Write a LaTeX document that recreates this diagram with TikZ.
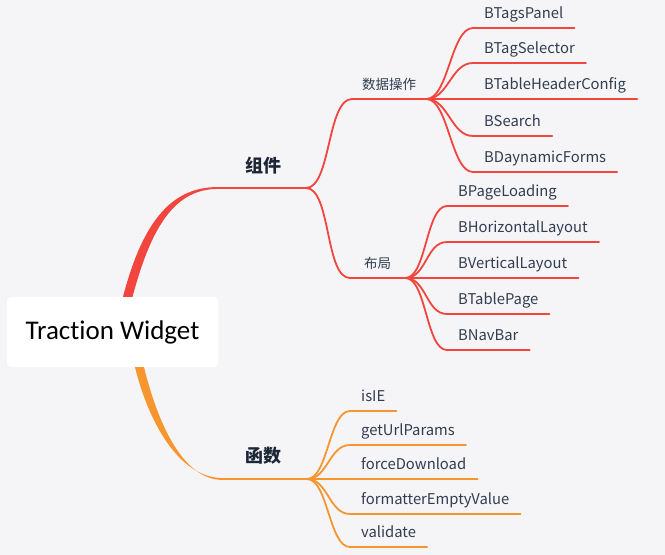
\documentclass[tikz,border=0pt]{standalone}
\usepackage{fontspec}
\setmainfont{Noto Sans CJK SC}
\newfontfamily\rootfont{Carlito}[Ligatures=NoCommon]
\usetikzlibrary{positioning}
\definecolor{mapBg}{HTML}{F5F5F8}
\definecolor{mapRed}{HTML}{F2453D}
\definecolor{mapOrange}{HTML}{F7962E}
\definecolor{mapInk}{HTML}{1C2636}
\definecolor{mapText}{HTML}{333D4F}

\begin{document}
\begin{tikzpicture}[x=1pt,y=-1pt,
    rootbox/.style={fill=white,rounded corners=4pt,minimum width=211pt,
                    minimum height=70pt,font=\rootfont\fontsize{27}{30}\selectfont},
    topic/.style={font=\bfseries\fontsize{18}{20}\selectfont,text=mapInk},
    sub/.style={anchor=south west,inner xsep=10pt,inner ysep=6pt,text height=10pt,
                text depth=3pt,font=\fontsize{13.5}{16}\selectfont,text=mapText},
    leaf/.style={anchor=south west,inner xsep=11pt,inner ysep=6pt,text height=10pt,
                 text depth=3pt,font=\fontsize{14.8}{17}\selectfont,text=mapText},
    link/.style={line width=1.8pt,line cap=round}]
  \fill[mapBg] (0,0) rectangle (665,555);
  \useasboundingbox (0,0) rectangle (665,555);

  \node[rootbox] (root) at (112.5,332) {Traction Widget};

  % main branches
  \coordinate (compL) at (217,188);
  \coordinate (compJ) at (306,188);
  \coordinate (funcL) at (223,479);
  \coordinate (funcJ) at (307,479);
  \fill[mapRed] ([xshift=10.5pt]root.north) .. controls (141,228) and (168,187) .. ([yshift=0.9pt]compL)
    -- ([yshift=-0.9pt]compL) .. controls (172,189.5) and (150,232) .. ([xshift=20pt]root.north) -- cycle;
  \fill[mapOrange] ([xshift=22.5pt]root.south) .. controls (148,420) and (178,478) .. ([yshift=0.9pt]funcL)
    -- ([yshift=-0.9pt]funcL) .. controls (182,480.5) and (157,420) .. ([xshift=31.5pt]root.south) -- cycle;
  \draw[link,mapRed] (compL) -- (compJ);
  \draw[link,mapOrange] (funcL) -- (funcJ);
  \node[topic] (comp) at (263,166) {组件};
  \node[topic] (func) at (263,456) {函数};

  \node[sub] (data) at (352,99) {数据操作};
  \node[sub,minimum width=55pt] (layout) at (350,278) {布局};
  \draw[link,mapRed] (compJ) .. controls +(25,0) and +(-25,0) .. (data.south west) -- (data.south east);
  \draw[link,mapRed] (compJ) .. controls +(25,0) and +(-25,0) .. (layout.south west) -- (layout.south east);

  \foreach \name/\y/\txt in {tags/28/BTagsPanel, tagsel/63/BTagSelector,
      header/99/BTableHeaderConfig, search/136/BSearch, forms/172/BDaynamicForms} {
    \node[leaf] (\name) at (473,\y) {\txt};
    \draw[link,mapRed] (data.south east) .. controls +(22,0) and +(-22,0) .. (\name.south west)
      -- (\name.south east);
  }
  \foreach \name/\y/\txt in {loading/206/BPageLoading, hlayout/242/BHorizontalLayout,
      vlayout/278/BVerticalLayout, tpage/314/BTablePage, navbar/350/BNavBar} {
    \node[leaf] (\name) at (447,\y) {\txt};
    \draw[link,mapRed] (layout.south east) .. controls +(21,0) and +(-21,0) .. (\name.south west)
      -- (\name.south east);
  }
  \foreach \name/\y/\txt in {isie/411/isIE, params/445/getUrlParams,
      download/479/forceDownload, empty/514/formatterEmptyValue, valid/547/validate} {
    \node[leaf] (\name) at (350,\y) {\txt};
    \draw[link,mapOrange] (funcJ) .. controls +(21,0) and +(-21,0) .. (\name.south west)
      -- (\name.south east);
  }
\end{tikzpicture}
\end{document}
